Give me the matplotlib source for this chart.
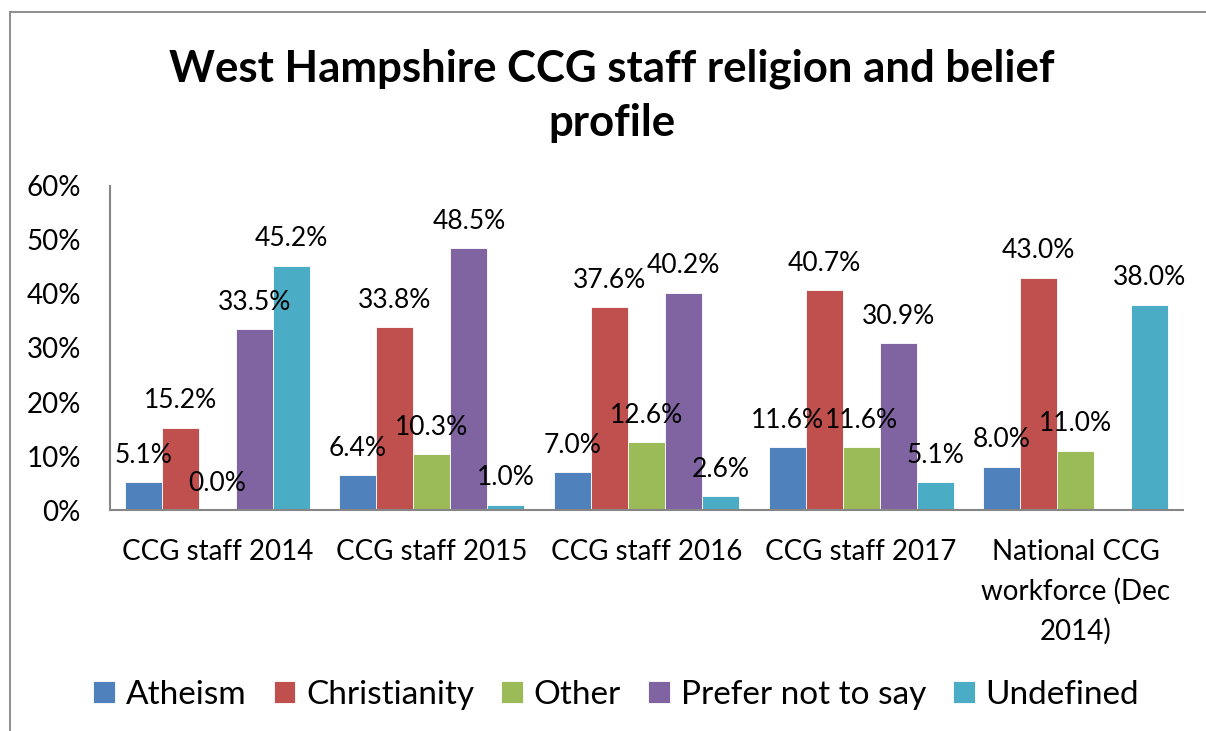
import matplotlib.pyplot as plt
import numpy as np
from matplotlib.lines import Line2D

plt.rcParams['font.family'] = ['Lato', 'DejaVu Sans']

# Data (percent)
groups = ['CCG staff 2014', 'CCG staff 2015', 'CCG staff 2016', 'CCG staff 2017',
          'National CCG\nworkforce (Dec\n2014)']
series = ['Atheism', 'Christianity', 'Other', 'Prefer not to say', 'Undefined']
atheism = [5.1, 6.4, 7.0, 11.6, 8.0]
christianity = [15.2, 33.8, 37.6, 40.7, 43.0]
other = [0.0, 10.3, 12.6, 11.6, 11.0]
prefer_not = [33.5, 48.5, 40.2, 30.9, np.nan]
undefined = [45.2, 1.0, 2.6, 5.1, 38.0]
colors = ['#4F81BD', '#C0504D', '#9BBB59', '#8064A2', '#4BACC6']

values = [atheism, christianity, other, prefer_not, undefined]

fig = plt.figure(figsize=(12.06, 7.31), dpi=100)
ax = fig.add_axes([0.0912, 0.3023, 0.8898, 0.4433])

x = np.arange(len(groups))
w = 0.1725

for i, (name, vals, c) in enumerate(zip(series, values, colors)):
    pos = x + (i - 2) * w
    ax.bar(pos, vals, width=w, color=c, edgecolor='white', linewidth=0.6, label=name)
    for p, v in zip(pos, vals):
        if np.isnan(v):
            continue
        ax.annotate(f'{v:.1f}%', (p, v), xytext=(0, 14), textcoords='offset points',
                    ha='center', va='baseline', fontsize=19)

ax.set_xlim(-0.5, 4.5)
ax.set_ylim(0, 60)
ax.set_yticks(range(0, 61, 10))
ax.set_yticklabels([f'{t}%' for t in range(0, 61, 10)], fontsize=20)
ax.set_xticks(x)
ax.set_xticklabels(groups, fontsize=20, linespacing=1.6, va='top')
ax.tick_params(axis='y', length=0, pad=21)
ax.tick_params(axis='x', length=0, pad=21)
for s in ['top', 'right']:
    ax.spines[s].set_visible(False)
for s in ['left', 'bottom']:
    ax.spines[s].set_color('#868686')
    ax.spines[s].set_linewidth(1.5)

fig.text(0.507, 0.869, 'West Hampshire CCG staff religion and belief\nprofile',
         ha='center', va='center', fontsize=31.5, fontweight='bold', linespacing=1.45)

ax.legend(loc='center', bbox_to_anchor=(0.511, 0.049), bbox_transform=fig.transFigure,
          ncol=5, frameon=False, fontsize=24, handlelength=0.64, handleheight=0.64,
          handletextpad=0.33, columnspacing=0.82)

# chart border (cropped at right and bottom)
fig.add_artist(Line2D([9.5 / 1206, 9.5 / 1206], [0, 1 - 12 / 731], color='#868686', lw=1.3,
                      transform=fig.transFigure))
fig.add_artist(Line2D([9.5 / 1206, 1], [1 - 12 / 731, 1 - 12 / 731], color='#868686', lw=1.3,
                      transform=fig.transFigure))

fig.savefig('out.png', dpi=100)
